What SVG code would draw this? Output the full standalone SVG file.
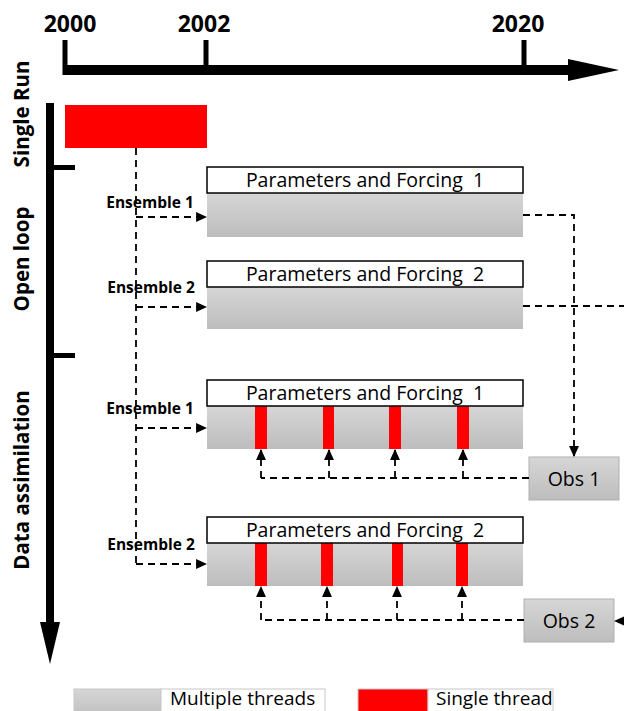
<svg xmlns="http://www.w3.org/2000/svg" width="624" height="711" viewBox="0 0 624 711">
<defs>
<linearGradient id="gray" x1="0" y1="0" x2="0" y2="1">
<stop offset="0" stop-color="#d6d6d6"/>
<stop offset="1" stop-color="#bdbdbd"/>
</linearGradient>
<marker id="ah" markerUnits="userSpaceOnUse" markerWidth="11" markerHeight="11" viewBox="0 0 10 10" refX="9" refY="5" orient="auto">
<path d="M0,0.5 L10,5 L0,9.5 Z" fill="#000"/>
</marker>
<style>
.yr{font-family:"Open Sans","Liberation Sans",sans-serif;font-weight:700;font-size:23px;fill:#000;text-anchor:middle}
.side{font-family:"Open Sans","Liberation Sans",sans-serif;font-weight:700;font-size:20.5px;fill:#000;text-anchor:middle}
.ens{font-family:"Open Sans","Liberation Sans",sans-serif;font-weight:700;font-size:15.5px;fill:#000;text-anchor:middle}
.hdr{font-family:"Open Sans","Liberation Sans",sans-serif;font-size:19.5px;fill:#000;text-anchor:middle}
.leg{font-family:"Open Sans","Liberation Sans",sans-serif;font-size:19px;fill:#000}
.head{fill:#fff;stroke:#000;stroke-width:1.5}
.body{fill:url(#gray)}
.red{fill:#ff0000}
.obs{fill:url(#gray);stroke:#b0b0b0;stroke-width:1}
.dash{fill:none;stroke:#000;stroke-width:1.8;stroke-dasharray:7 5}
</style>
</defs>

<g id="timeline">
<rect x="63" y="65" width="507" height="10" fill="#000"/>
<path d="M568,59 L619,70 L568,81 Z" fill="#000"/>
<rect x="62.5" y="40" width="5" height="35" fill="#000"/>
<rect x="203.5" y="40" width="5" height="35" fill="#000"/>
<rect x="521.5" y="40" width="5" height="35" fill="#000"/>
<text class="yr" x="70" y="32">2000</text>
<text class="yr" x="204" y="32">2002</text>
<text class="yr" x="518" y="32">2020</text>
</g>

<g id="phase-axis">
<rect x="46" y="103" width="8" height="522" fill="#000"/>
<path d="M40,622 L60,622 L50,664 Z" fill="#000"/>
<rect x="50" y="165" width="25" height="5" fill="#000"/>
<rect x="50" y="353" width="25" height="5" fill="#000"/>
<text class="side" transform="translate(29,114) rotate(-90)">Single Run</text>
<text class="side" transform="translate(29,259) rotate(-90)">Open loop</text>
<text class="side" transform="translate(29,480) rotate(-90)">Data assimilation</text>
</g>

<g id="single-run">
<rect class="red" x="65" y="105" width="142" height="43"/>
</g>

<g id="ol-ens1">
<rect class="body" x="207" y="193" width="316" height="44"/>
<rect class="head" x="207" y="167" width="316" height="26"/>
<text class="hdr" x="365" y="187" xml:space="preserve">Parameters and Forcing  1</text>
<text class="ens" x="150" y="208">Ensemble 1</text>
</g>

<g id="ol-ens2">
<rect class="body" x="207" y="287" width="316" height="42"/>
<rect class="head" x="207" y="261" width="316" height="26"/>
<text class="hdr" x="365" y="281" xml:space="preserve">Parameters and Forcing  2</text>
<text class="ens" x="151" y="293">Ensemble 2</text>
</g>

<g id="da-ens1">
<rect class="body" x="207" y="406" width="316" height="43"/>
<rect class="red" x="255" y="406" width="12" height="43"/>
<rect class="red" x="323" y="406" width="11" height="43"/>
<rect class="red" x="389" y="406" width="12" height="43"/>
<rect class="red" x="457" y="406" width="12" height="43"/>
<rect class="head" x="207" y="380" width="316" height="26"/>
<text class="hdr" x="365" y="400" xml:space="preserve">Parameters and Forcing  1</text>
<text class="ens" x="150" y="414">Ensemble 1</text>
</g>

<g id="da-ens2">
<rect class="body" x="207" y="543" width="316" height="43"/>
<rect class="red" x="255" y="543" width="12" height="43"/>
<rect class="red" x="321" y="543" width="12" height="43"/>
<rect class="red" x="392" y="543" width="11" height="43"/>
<rect class="red" x="456" y="543" width="12" height="43"/>
<rect class="head" x="207" y="517" width="316" height="26"/>
<text class="hdr" x="365" y="537" xml:space="preserve">Parameters and Forcing  2</text>
<text class="ens" x="151" y="550">Ensemble 2</text>
</g>

<g id="obs1">
<rect class="obs" x="529" y="457" width="90" height="43"/>
<text class="hdr" x="574" y="486">Obs 1</text>
</g>

<g id="obs2">
<rect class="obs" x="524" y="599" width="90" height="43"/>
<text class="hdr" x="569" y="628">Obs 2</text>
</g>

<g id="connectors">
<path class="dash" d="M136,148 L136,564"/>
<path class="dash" d="M136,217 L206,217" marker-end="url(#ah)"/>
<path class="dash" d="M136,307 L206,307" marker-end="url(#ah)"/>
<path class="dash" d="M136,428 L206,428" marker-end="url(#ah)"/>
<path class="dash" d="M136,564 L206,564" marker-end="url(#ah)"/>
<path class="dash" d="M523,215 L574,215 L574,456" marker-end="url(#ah)"/>
<path class="dash" d="M523,306 L630,306"/>
<path class="dash" d="M636,621 L615,621" marker-end="url(#ah)"/>
<path class="dash" d="M529,478 L261,478"/>
<path class="dash" d="M261,478 L261,450" marker-end="url(#ah)"/>
<path class="dash" d="M329,478 L329,450" marker-end="url(#ah)"/>
<path class="dash" d="M395,478 L395,450" marker-end="url(#ah)"/>
<path class="dash" d="M463,478 L463,450" marker-end="url(#ah)"/>
<path class="dash" d="M524,620 L261,620"/>
<path class="dash" d="M261,620 L261,587" marker-end="url(#ah)"/>
<path class="dash" d="M327,620 L327,587" marker-end="url(#ah)"/>
<path class="dash" d="M397,620 L397,587" marker-end="url(#ah)"/>
<path class="dash" d="M462,620 L462,587" marker-end="url(#ah)"/>
</g>

<g id="legend">
<rect x="74" y="689" width="87" height="30" fill="url(#gray)" stroke="#c8c8c8"/>
<rect x="161" y="689" width="164" height="30" fill="#fff" stroke="#c8c8c8"/>
<text class="leg" x="170" y="705">Multiple threads</text>
<rect x="358" y="689" width="70" height="30" fill="#ff0000" stroke="#c8c8c8"/>
<rect x="428" y="689" width="125" height="30" fill="#fff" stroke="#c8c8c8"/>
<text class="leg" x="436" y="705">Single thread</text>
</g>
</svg>
